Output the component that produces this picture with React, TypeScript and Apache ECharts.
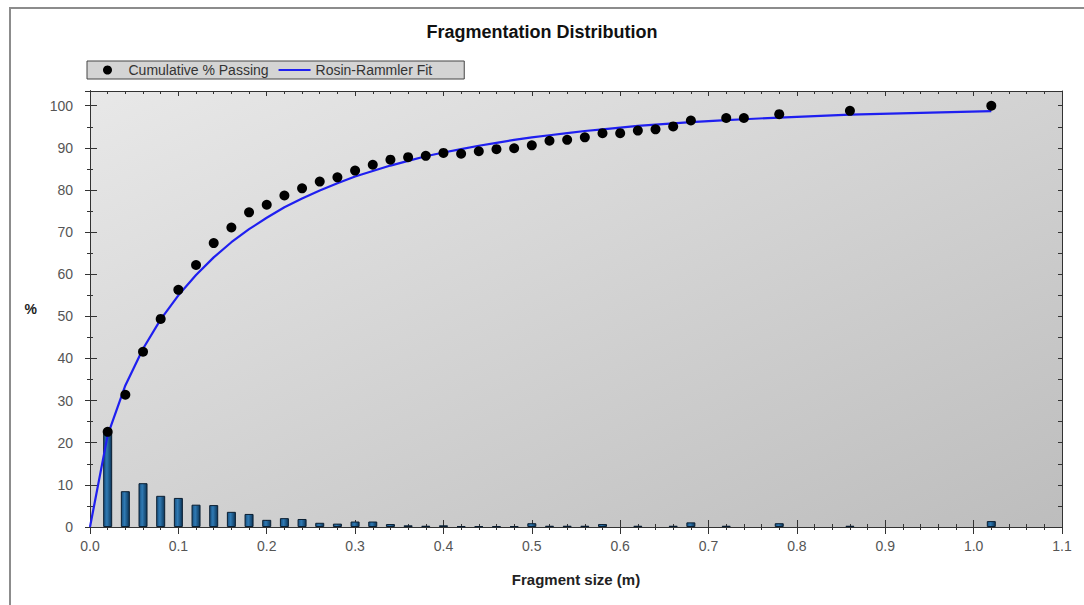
import React, { useEffect, useRef } from 'react';
import * as echarts from 'echarts';

// Fragment sizes (m) of the measured points
const sizes = [
  0.02, 0.04, 0.06, 0.08, 0.1, 0.12, 0.14, 0.16, 0.18, 0.2, 0.22, 0.24, 0.26, 0.28, 0.3,
  0.32, 0.34, 0.36, 0.38, 0.4, 0.42, 0.44, 0.46, 0.48, 0.5, 0.52, 0.54, 0.56, 0.58, 0.6,
  0.62, 0.64, 0.66, 0.68, 0.72, 0.74, 0.78, 0.86, 1.02,
];
// Cumulative % passing (black dots)
const cumulativePassing = [
  22.6, 31.4, 41.6, 49.4, 56.3, 62.2, 67.4, 71.1, 74.7, 76.5, 78.7, 80.4, 82.0, 83.0, 84.6,
  86.0, 87.2, 87.8, 88.1, 88.8, 88.6, 89.2, 89.7, 89.9, 90.6, 91.7, 91.9, 92.5, 93.5, 93.5,
  94.1, 94.4, 95.1, 96.5, 97.1, 97.1, 98.0, 98.8, 100.0,
];
// Rosin-Rammler fit line
const fitSizes = [0, ...sizes];
const fitValues = [
  0, 21.8, 33.6, 42.3, 49.3, 55.0, 59.8, 64.0, 67.6, 70.7, 73.4, 75.9, 78.0, 79.9, 81.6, 83.2,
  84.5, 85.8, 86.9, 88.0, 88.9, 89.7, 90.5, 91.2, 91.9, 92.5, 93.0, 93.5, 94.0, 94.4, 94.8,
  95.2, 95.5, 95.8, 96.1, 96.6, 96.8, 97.2, 97.9, 98.7,
];
// Frequency bars (% retained per size class)
const barSizes = [
  0.02, 0.04, 0.06, 0.08, 0.1, 0.12, 0.14, 0.16, 0.18, 0.2, 0.22, 0.24, 0.26, 0.28, 0.3,
  0.32, 0.34, 0.36, 0.38, 0.4, 0.42, 0.44, 0.46, 0.48, 0.5, 0.52, 0.54, 0.56, 0.58, 0.62,
  0.66, 0.68, 0.72, 0.78, 0.86, 1.02,
];
const barValues = [
  22.6, 8.5, 10.4, 7.4, 6.9, 5.3, 5.2, 3.6, 3.1, 1.7, 2.1, 1.9, 1.0, 0.8, 1.3,
  1.3, 0.7, 0.4, 0.3, 0.4, 0.2, 0.2, 0.2, 0.2, 0.9, 0.3, 0.3, 0.3, 0.7, 0.3,
  0.3, 1.1, 0.3, 0.9, 0.3, 1.4,
];

const TITLE = 'Fragmentation Distribution';
const X_NAME = 'Fragment size (m)';
const Y_NAME = '%';
const LEGEND_POINTS = 'Cumulative % Passing';
const LEGEND_FIT = 'Rosin-Rammler Fit';

const X_MIN = 0;
const X_MAX = 1.1;
const X_STEP = 0.1;
const Y_MIN = 0;
const Y_MAX = 103.5;
const Y_STEP = 10;

const FONT = "'Liberation Sans', Arial, sans-serif";
const AXIS_COLOR = '#333';
const FIT_COLOR = '#1f1ff0';

export default function App() {
  const ref = useRef<HTMLDivElement>(null);

  useEffect(() => {
    if (!ref.current) return;
    const chart = echarts.init(ref.current, undefined, { renderer: 'svg' });

    const xBase = (extra: any) => ({
      type: 'value',
      min: X_MIN,
      max: X_MAX,
      interval: X_STEP,
      splitLine: { show: false },
      axisLine: { show: true, onZero: false, lineStyle: { color: AXIS_COLOR, width: 1 } },
      ...extra,
    });
    const yBase = (extra: any) => ({
      type: 'value',
      min: Y_MIN,
      max: Y_MAX,
      splitLine: { show: false },
      axisLine: { show: true, onZero: false, lineStyle: { color: AXIS_COLOR, width: 1 } },
      ...extra,
    });

    const option: any = {
      animation: false,
      backgroundColor: '#ffffff',
      textStyle: { fontFamily: FONT },
      title: {
        text: TITLE,
        left: 'center',
        top: 18,
        textStyle: { fontFamily: FONT, fontSize: 18, fontWeight: 'bold', color: '#111' },
      },
      legend: {
        left: 87,
        top: 61,
        padding: [2, 32, 2, 16],
        itemGap: 10,
        itemWidth: 32,
        itemHeight: 9,
        backgroundColor: '#d4d4d4',
        borderColor: '#444',
        borderWidth: 1,
        textStyle: { fontFamily: FONT, fontSize: 14, color: '#333' },
        data: [
          { name: LEGEND_POINTS, icon: 'circle' },
          { name: LEGEND_FIT, icon: 'path://M0 0 H32 V2 H0 Z' },
        ],
      },
      graphic: [
        {
          type: 'rect',
          shape: { x: 10, y: 8, width: 1090, height: 620 },
          style: { fill: 'none', stroke: '#8c8c8c', lineWidth: 2 },
          silent: true,
          z: -10,
        },
      ],
      grid: {
        left: 90,
        right: 22,
        top: 91,
        bottom: 78,
        show: true,
        borderWidth: 0,
        backgroundColor: new echarts.graphic.LinearGradient(0, 0, 1, 1, [
          { offset: 0, color: '#e8e8e8' },
          { offset: 1, color: '#bdbdbd' },
        ]),
      },
      xAxis: [
        xBase({
          position: 'bottom',
          name: X_NAME,
          nameLocation: 'middle',
          nameGap: 45,
          nameTextStyle: { fontFamily: FONT, fontSize: 15, fontWeight: 'bold', color: '#222' },
          axisTick: { show: true, inside: false, length: 7, lineStyle: { color: AXIS_COLOR } },
          minorTick: { show: true, splitNumber: 5, length: 3, lineStyle: { color: AXIS_COLOR } },
          axisLabel: {
            show: true,
            margin: 12,
            fontSize: 14,
            color: '#555',
            fontFamily: FONT,
            formatter: (v: number) => v.toFixed(1),
          },
        }),
        xBase({
          position: 'bottom',
          axisTick: { show: true, inside: true, length: 7, lineStyle: { color: AXIS_COLOR } },
          minorTick: { show: true, splitNumber: 5, length: 3, lineStyle: { color: AXIS_COLOR } },
          axisLabel: { show: false },
        }),
        xBase({
          position: 'top',
          axisTick: { show: true, inside: true, length: 5, lineStyle: { color: AXIS_COLOR } },
          minorTick: { show: true, splitNumber: 5, length: 3, lineStyle: { color: AXIS_COLOR } },
          axisLabel: { show: false },
        }),
      ],
      yAxis: [
        yBase({
          position: 'left',
          interval: Y_STEP,
          name: Y_NAME,
          nameLocation: 'middle',
          nameRotate: 0,
          nameGap: 53,
          nameTextStyle: { fontFamily: FONT, fontSize: 14, fontWeight: 'bold', color: '#222' },
          axisTick: { show: true, inside: false, length: 5, lineStyle: { color: AXIS_COLOR } },
          axisLabel: {
            show: true,
            margin: 17,
            fontSize: 14,
            color: '#555',
            fontFamily: FONT,
            formatter: (v: number) => (v % 10 === 0 ? String(v) : ''),
          },
        }),
        yBase({
          position: 'left',
          interval: Y_STEP,
          axisTick: { show: true, inside: true, length: 7, lineStyle: { color: AXIS_COLOR } },
          axisLabel: { show: false },
        }),
        yBase({
          position: 'left',
          interval: Y_STEP / 2,
          axisTick: { show: true, inside: false, length: 3, lineStyle: { color: AXIS_COLOR } },
          axisLabel: { show: false },
        }),
        yBase({
          position: 'left',
          interval: Y_STEP / 2,
          axisTick: { show: true, inside: true, length: 3, lineStyle: { color: AXIS_COLOR } },
          axisLabel: { show: false },
        }),
        yBase({
          position: 'right',
          interval: Y_STEP / 2,
          axisTick: { show: true, inside: true, length: 4, lineStyle: { color: AXIS_COLOR } },
          axisLabel: { show: false },
        }),
      ],
      series: [
        {
          name: 'Frequency',
          type: 'bar',
          xAxisIndex: 0,
          yAxisIndex: 0,
          barWidth: 9,
          z: 1,
          data: barSizes.map((x, i) => [x, barValues[i]]),
          itemStyle: {
            color: new echarts.graphic.LinearGradient(0, 0, 1, 0, [
              { offset: 0, color: '#174f7e' },
              { offset: 0.4, color: '#2f7ab4' },
              { offset: 1, color: '#0c3558' },
            ]),
            borderColor: '#0a1e31',
            borderWidth: 1,
          },
        },
        {
          name: LEGEND_FIT,
          type: 'line',
          xAxisIndex: 0,
          yAxisIndex: 0,
          symbol: 'none',
          z: 2,
          data: fitSizes.map((x, i) => [x, fitValues[i]]),
          lineStyle: { color: FIT_COLOR, width: 2.2 },
          itemStyle: { color: FIT_COLOR },
        },
        {
          name: LEGEND_POINTS,
          type: 'scatter',
          xAxisIndex: 0,
          yAxisIndex: 0,
          symbol: 'circle',
          symbolSize: 10,
          z: 3,
          data: sizes.map((x, i) => [x, cumulativePassing[i]]),
          itemStyle: { color: '#000000', opacity: 1 },
        },
      ],
    };

    chart.setOption(option);
    return () => {
      chart.dispose();
    };
  }, []);

  return (
    <div
      ref={ref}
      style={{ position: 'fixed', left: 0, top: 0, width: 1084, height: 605, background: '#fff' }}
    />
  );
}
